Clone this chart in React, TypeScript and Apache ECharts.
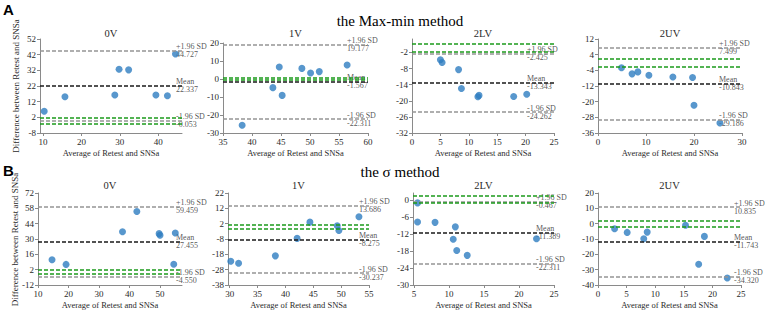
import React, { useEffect, useRef } from "react";
import * as echarts from "echarts";

const panelNames = ["0V", "1V", "2LV", "2UV"];
const methodTitles = ["the Max-min method", "the σ method"];
const rowLetters = ["A", "B"];
const xAxisName = "Average of Retest and SNSa";
const yAxisName = "Difference between Retest and SNSa";
const upperText = "+1.96 SD";
const meanText = "Mean";
const lowerText = "-1.96 SD";

// ---- the Max-min method ----
const maxMinAvg = [
  [10.3, 15.7, 28.7, 29.8, 32.3, 39.4, 42.4, 44.5],
  [38.3, 43.6, 44.7, 45.2, 48.6, 50.1, 51.6, 56.4],
  [5.0, 5.3, 8.2, 8.7, 11.6, 11.8, 17.9, 20.2],
  [4.9, 7.1, 8.3, 10.6, 15.6, 19.7, 20.0, 25.4],
];
const maxMinDiff = [
  [5.9, 15.1, 16.2, 32.7, 32.3, 16.2, 15.8, 42.4],
  [-25.7, -4.8, 6.7, -9.1, 5.9, 3.3, 4.1, 7.8],
  [-4.75, -5.75, -8.4, -15.4, -18.5, -18.0, -18.4, -17.6],
  [-2.7, -5.8, -4.8, -6.5, -7.4, -7.7, -21.8, -30.9],
];
const maxMinUpper = [44.727, 19.177, -2.425, 7.499];
const maxMinMean = [22.337, -1.567, -13.343, -10.843];
const maxMinLower = [-0.053, -22.311, -24.262, -29.186];
const maxMinGreen = [[2, -2], [0.6, -0.6], [1.4, -1.7], [2, -2]];
const maxMinXRange = [[9.2, 46.2], [35, 60], [0, 25], [0, 30]];
const maxMinYRange = [[-8, 52], [-30, 20], [-32, 3], [-36, 12]];
const maxMinXTicks = [[10, 20, 30, 40], [35, 40, 45, 50, 55, 60], [0, 5, 10, 15, 20, 25], [0, 10, 20, 30]];
const maxMinYTicks = [
  [-8, 2, 12, 22, 32, 42, 52],
  [-30, -20, -10, 0, 10, 20],
  [-32, -26, -20, -14, -8, -2],
  [-36, -28, -20, -12, -4, 4, 12],
];

// ---- the sigma method ----
const sigmaAvg = [
  [14.6, 19.2, 37.7, 42.4, 49.7, 50.0, 55.0, 54.5],
  [30.2, 31.6, 38.2, 42.1, 44.4, 49.3, 49.6, 53.2],
  [5.5, 5.5, 8.0, 10.9, 10.6, 11.1, 12.6, 22.5],
  [2.9, 5.1, 8.0, 8.6, 15.3, 18.6, 17.6, 22.6],
];
const sigmaDiff = [
  [11.0, 6.8, 36.7, 55.1, 34.9, 33.4, 35.5, 6.9],
  [-22.5, -23.8, -19.0, -7.6, 3.0, 0.6, -2.4, 6.5],
  [-0.9, -7.7, -7.8, -9.4, -13.8, -17.8, -19.5, -13.6],
  [-3.3, -5.7, -9.8, -5.5, -1.0, -8.3, -26.5, -35.4],
];
const sigmaUpper = [59.459, 13.686, -0.467, 10.835];
const sigmaMean = [27.455, -8.275, -11.389, -11.743];
const sigmaLower = [-4.55, -30.237, -22.311, -34.32];
const sigmaGreen = [[2, -2], [1, -1], [1.5, -0.7], [2, -2]];
const sigmaXRange = [[10, 57.2], [29.7, 55], [4.85, 25], [0, 25]];
const sigmaYRange = [[-12, 72], [-38, 22], [-30, 2.6], [-40, 20]];
const sigmaXTicks = [[10, 20, 30, 40, 50], [30, 35, 40, 45, 50, 55], [5, 10, 15, 20, 25], [0, 5, 10, 15, 20, 25]];
const sigmaYTicks = [
  [-12, 2, 16, 30, 44, 58, 72],
  [-38, -28, -18, -8, 2, 12, 22],
  [-30, -24, -18, -12, -6, 0],
  [-40, -30, -20, -10, 0, 10, 20],
];

// ---- layout (styles/positions) ----
const gridLayouts = [
  [
    { left: 40, top: 39, width: 142, height: 94 },
    { left: 223, top: 43, width: 145, height: 90 },
    { left: 412, top: 39, width: 142, height: 94 },
    { left: 598, top: 39, width: 144, height: 94 },
  ],
  [
    { left: 38, top: 193, width: 144, height: 93 },
    { left: 228, top: 193, width: 141, height: 93 },
    { left: 413, top: 193, width: 141, height: 93 },
    { left: 598, top: 193, width: 143, height: 93 },
  ],
];
const labelDx = [[-6, -21, -27, -23], [-6, -10, -18, -7]];
const rowTitleY = [20.5, 171.5];
const panelTitleY = [33, 185.5];
const letterY = [2, 163];
const yNameX = [16, 15];

const SERIF = "'Liberation Serif', 'Times New Roman', serif";
const POINT = "#2e7dc0";
const GRAY = "#959595";
const BLACK = "#1a1a1a";
const GREEN = "#1b9a1b";
const AXIS = "#8a8a8a";
const TXT = "#2a2a2a";

const rows = [
  { avg: maxMinAvg, diff: maxMinDiff, upper: maxMinUpper, mean: maxMinMean, lower: maxMinLower, green: maxMinGreen, xr: maxMinXRange, yr: maxMinYRange, xt: maxMinXTicks, yt: maxMinYTicks },
  { avg: sigmaAvg, diff: sigmaDiff, upper: sigmaUpper, mean: sigmaMean, lower: sigmaLower, green: sigmaGreen, xr: sigmaXRange, yr: sigmaYRange, xt: sigmaXTicks, yt: sigmaYTicks },
];

function buildOption() {
  const grid: any[] = [];
  const xAxis: any[] = [];
  const yAxis: any[] = [];
  const series: any[] = [];
  const graphic: any[] = [];

  const dash = (color: string) => ({ color, width: 1.5, type: [4, 2] });

  rows.forEach((row, r) => {
    graphic.push({
      type: "text",
      x: 3,
      y: letterY[r],
      style: { text: rowLetters[r], font: "bold 15px 'Liberation Sans', Arial, sans-serif", fill: "#000", textVerticalAlign: "top", verticalAlign: "top" },
    });
    graphic.push({
      type: "text",
      x: 400,
      y: rowTitleY[r],
      style: { text: methodTitles[r], font: `15px ${SERIF}`, fill: "#000", textAlign: "center", align: "center", textVerticalAlign: "middle", verticalAlign: "middle" },
    });
    const g0 = gridLayouts[r][0];
    graphic.push({
      type: "text",
      x: yNameX[r],
      y: g0.top + g0.height / 2,
      rotation: Math.PI / 2,
      style: { text: yAxisName, font: `9px ${SERIF}`, fill: TXT, textAlign: "center", align: "center", textVerticalAlign: "middle", verticalAlign: "middle" },
    });
    panelNames.forEach((pn, p) => {
      const idx = r * 4 + p;
      const g = gridLayouts[r][p];
      grid.push({ ...g });
      graphic.push({
        type: "text",
        x: g.left + g.width / 2,
        y: panelTitleY[r],
        style: { text: pn, font: `10.5px ${SERIF}`, fill: TXT, textAlign: "center", align: "center", textVerticalAlign: "middle", verticalAlign: "middle" },
      });
      xAxis.push({
        gridIndex: idx,
        type: "value",
        min: row.xr[p][0],
        max: row.xr[p][1],
        axisLine: { show: true, onZero: false, lineStyle: { color: AXIS, width: 1 } },
        axisTick: { show: true, customValues: row.xt[p], length: 3, lineStyle: { color: AXIS } },
        axisLabel: { customValues: row.xt[p], fontSize: 9, fontFamily: SERIF, color: TXT, margin: 4 },
        splitLine: { show: false },
        name: xAxisName,
        nameLocation: "middle",
        nameGap: 15,
        nameTextStyle: { fontSize: 8.5, fontFamily: SERIF, color: TXT },
      });
      yAxis.push({
        gridIndex: idx,
        type: "value",
        min: row.yr[p][0],
        max: row.yr[p][1],
        axisLine: { show: true, onZero: false, lineStyle: { color: AXIS, width: 1 } },
        axisTick: { show: true, customValues: row.yt[p], length: 3, lineStyle: { color: AXIS } },
        axisLabel: { customValues: row.yt[p], fontSize: 9, fontFamily: SERIF, color: TXT, margin: 4 },
        splitLine: { show: false },
      });
      const xEnd = row.xr[p][1];
      const labelStyle = {
        show: true,
        formatter: "{b}",
        align: "left",
        verticalAlign: "top",
        fontSize: 8,
        lineHeight: 8,
        fontFamily: SERIF,
        color: TXT,
      };
      series.push({
        type: "scatter",
        xAxisIndex: idx,
        yAxisIndex: idx,
        symbolSize: 0,
        clip: false,
        silent: true,
        z: 1,
        itemStyle: { color: "rgba(0,0,0,0)" },
        label: { ...labelStyle, position: [labelDx[r][p], -8] },
        data: [
          { name: `${upperText}\n${row.upper[p].toFixed(3)}`, value: [xEnd, row.upper[p]] },
          { name: `${meanText}\n${row.mean[p].toFixed(3)}`, value: [xEnd, row.mean[p]] },
          { name: `${lowerText}\n${row.lower[p].toFixed(3)}`, value: [xEnd, row.lower[p]] },
        ],
        markLine: {
          silent: true,
          symbol: ["none", "none"],
          label: { show: false },
          data: [
            { yAxis: row.upper[p], lineStyle: dash(GRAY) },
            { yAxis: row.lower[p], lineStyle: dash(GRAY) },
            { yAxis: row.green[p][0], lineStyle: dash(GREEN) },
            { yAxis: row.green[p][1], lineStyle: dash(GREEN) },
            { yAxis: row.mean[p], lineStyle: dash(BLACK) },
          ],
        },
      });
      series.push({
        type: "scatter",
        xAxisIndex: idx,
        yAxisIndex: idx,
        symbolSize: 7,
        z: 3,
        itemStyle: { color: POINT },
        data: row.avg[p].map((x, i) => [x, row.diff[p][i]]),
      });
    });
  });

  return { animation: false, backgroundColor: "#ffffff", grid, xAxis, yAxis, series, graphic };
}

export default function App() {
  const ref = useRef<HTMLDivElement>(null);
  useEffect(() => {
    if (!ref.current) return;
    const chart = echarts.init(ref.current, null, { renderer: "svg" });
    chart.setOption(buildOption() as any);
    return () => chart.dispose();
  }, []);
  return <div ref={ref} style={{ position: "absolute", left: 0, top: 0, width: 767, height: 310 }} />;
}
